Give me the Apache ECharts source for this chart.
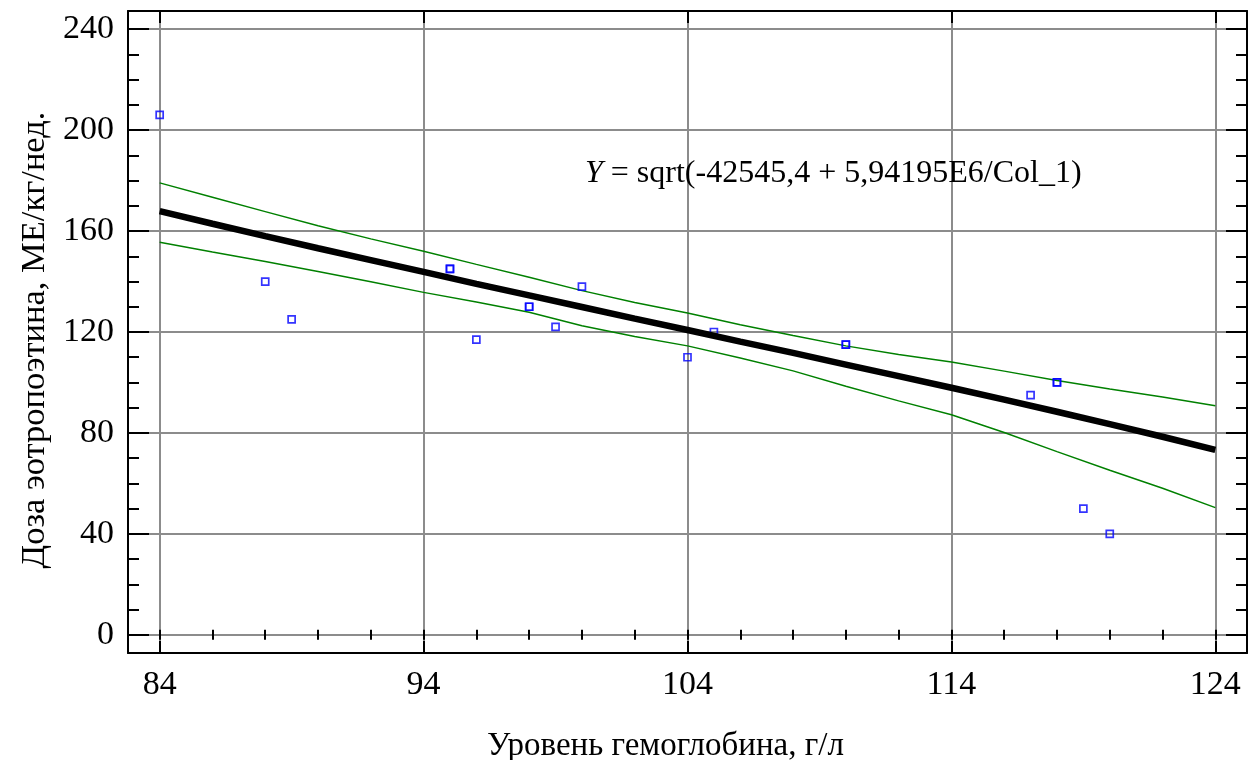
<!DOCTYPE html>
<html>
<head>
<meta charset="utf-8">
<script src="https://cdn.jsdelivr.net/npm/echarts@6/dist/echarts.min.js"></script>
<style>
html,body{margin:0;padding:0;background:#fff;}
#chart{width:1257px;height:760px;}
</style>
</head>
<body>
<div id="chart"></div>
<script>
// ---- data ----
const pointsX = [84, 88, 89, 95, 95, 96, 98, 98, 99, 100, 104, 105, 110, 110, 117, 118, 118, 119, 120];
const pointsY = [206, 140, 125, 145, 145, 117, 130, 130, 122, 138, 110, 120, 115, 115, 95, 100, 100, 50, 40];

const curveX = [84, 86, 88, 90, 92, 94, 96, 98, 100, 102, 104, 106, 108, 110, 112, 114, 116, 118, 120, 122, 124];
const fitY   = [167.9, 162.9, 158.0, 153.2, 148.5, 143.8, 139.1, 134.5, 129.9, 125.3, 120.8, 116.2, 111.7, 107.1, 102.5, 97.9, 93.2, 88.4, 83.5, 78.5, 73.3];
const upperY = [179.1, 173.4, 167.7, 162.1, 156.9, 152.0, 146.8, 141.7, 136.4, 131.7, 127.5, 122.9, 118.6, 114.5, 111.1, 108.1, 104.5, 100.8, 97.4, 94.2, 90.8];
const lowerY = [155.6, 151.7, 147.9, 144.0, 139.9, 135.7, 131.9, 127.8, 122.5, 118.2, 114.5, 109.7, 104.6, 98.5, 92.7, 87.2, 80.2, 72.6, 65.2, 58.1, 50.4];

const xTickLabels = [84, 94, 104, 114, 124];
const xMinorTicks = [84, 86, 88, 90, 92, 94, 96, 98, 100, 102, 104, 106, 108, 110, 112, 114, 116, 118, 120, 122, 124];
const yTickLabels = [0, 40, 80, 120, 160, 200, 240];
const yMinorTicks = [0, 10, 20, 30, 40, 50, 60, 70, 80, 90, 100, 110, 120, 130, 140, 150, 160, 170, 180, 190, 200, 210, 220, 230, 240];

const xTitle = 'Уровень гемоглобина, г/л';
const yTitle = 'Доза эотропоэтина, МЕ/кг/нед.';
const equation = 'sqrt(-42545,4 + 5,94195E6/Col_1)';

// ---- chart ----
const FONT = 'Liberation Serif';
const X_MIN = 82.8, X_MAX = 125.2, Y_MIN = -7.2, Y_MAX = 247.2;

function zip(a, b) { return a.map((v, i) => [v, b[i]]); }

function xAxisDef(pos, ticks, len, opts) {
  return Object.assign({
    type: 'value', min: X_MIN, max: X_MAX, position: pos,
    axisLine: { show: false },
    axisTick: { show: true, inside: true, length: len, customValues: ticks, lineStyle: { color: '#000', width: 2 } },
    axisLabel: { show: false },
    splitLine: { show: false }
  }, opts || {});
}
function yAxisDef(pos, ticks, len, opts) {
  return Object.assign({
    type: 'value', min: Y_MIN, max: Y_MAX, position: pos,
    axisLine: { show: false },
    axisTick: { show: true, inside: true, length: len, customValues: ticks, lineStyle: { color: '#000', width: 2 } },
    axisLabel: { show: false },
    splitLine: { show: false }
  }, opts || {});
}

const chart = echarts.init(document.getElementById('chart'), null, { renderer: 'canvas' });
chart.setOption({
  backgroundColor: '#fff',
  animation: false,
  grid: { left: 128, right: 10, top: 11, bottom: 107, containLabel: false, outerBoundsMode: 'none' },
  xAxis: [
    xAxisDef('bottom', xTickLabels, 12, {
      axisLine: { show: true, onZero: false, lineStyle: { color: '#000', width: 2 } },
      axisLabel: { show: true, customValues: xTickLabels, margin: 15, color: '#000', fontFamily: FONT, fontSize: 34 },
      splitLine: { show: true, lineStyle: { color: '#8c8c8c', width: 2 } },
      name: xTitle, nameLocation: 'middle', nameGap: 77,
      nameTextStyle: { color: '#000', fontFamily: FONT, fontSize: 33, padding: [0, 44, 0, 0] }
    }),
    xAxisDef('bottom', xMinorTicks, 5),
    xAxisDef('top', xTickLabels, 12, { axisLine: { show: true, onZero: false, lineStyle: { color: '#000', width: 2 } } }),
    xAxisDef('top', xMinorTicks, 5)
  ],
  yAxis: [
    yAxisDef('left', yTickLabels, 21, {
      axisLine: { show: true, onZero: false, lineStyle: { color: '#000', width: 2 } },
      axisLabel: { show: true, customValues: yTickLabels, margin: 14, color: '#000', fontFamily: FONT, fontSize: 34 },
      splitLine: { show: true, lineStyle: { color: '#8c8c8c', width: 2 } },
      name: yTitle, nameLocation: 'middle', nameGap: 76, nameRotate: 90,
      nameTextStyle: { color: '#000', fontFamily: FONT, fontSize: 34.5, padding: [0, 16, 0, 0] }
    }),
    yAxisDef('left', yMinorTicks, 11),
    yAxisDef('right', yTickLabels, 21, { axisLine: { show: true, onZero: false, lineStyle: { color: '#000', width: 2 } } }),
    yAxisDef('right', yMinorTicks, 11)
  ],
  series: [
    {
      type: 'line', name: 'upper', data: zip(curveX, upperY), xAxisIndex: 0, yAxisIndex: 0,
      symbol: 'none', lineStyle: { color: '#008000', width: 1.5 }, z: 3
    },
    {
      type: 'line', name: 'lower', data: zip(curveX, lowerY), xAxisIndex: 0, yAxisIndex: 0,
      symbol: 'none', lineStyle: { color: '#008000', width: 1.5 }, z: 3
    },
    {
      type: 'scatter', name: 'points', data: zip(pointsX, pointsY), xAxisIndex: 0, yAxisIndex: 0,
      symbol: 'rect', symbolSize: 7,
      itemStyle: { color: 'rgba(255,255,255,0)', borderColor: '#0000ff', borderWidth: 1.7 }, z: 4
    },
    {
      type: 'line', name: 'fit', data: zip(curveX, fitY), xAxisIndex: 0, yAxisIndex: 0,
      symbol: 'none', lineStyle: { color: '#000', width: 6.5 }, z: 5
    }
  ],
  graphic: [
    {
      type: 'text', left: 585, top: 158, z: 10,
      style: {
        text: '{i|Y} = ' + equation,
        font: '32px "Liberation Serif"', fill: '#000',
        rich: { i: { fontStyle: 'italic', fontFamily: FONT, fontSize: 32, fill: '#000' } }
      }
    }
  ]
});
</script>
</body>
</html>
